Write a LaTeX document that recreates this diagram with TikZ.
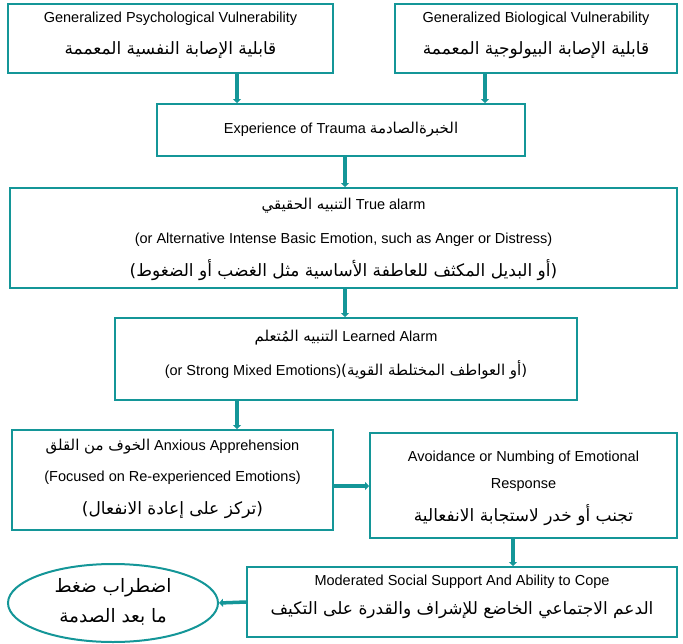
\documentclass[tikz,border=0pt]{standalone}
\usepackage{fontspec}
\setmainfont{Liberation Sans}
\newfontfamily\arfont[Script=Arabic]{DejaVu Sans}
\TeXXeTstate=1
\usetikzlibrary{arrows.meta,shapes.geometric}
\definecolor{tl}{RGB}{20,150,152}
\newcommand{\AR}[1]{{\arfont\beginR #1\endR}}
\newcommand{\ARs}[1]{{\arfont\fontsize{15}{18}\selectfont\beginR #1\endR}}
\begin{document}
\begin{tikzpicture}[x=1pt,y=-1pt,
  box/.style={draw=tl,line width=2pt,rectangle,inner sep=0pt},
  en/.style={inner sep=0pt,font=\fontsize{14.5}{17}\selectfont},
  arx/.style={inner sep=0pt,font=\fontsize{17}{20}\selectfont},
  arr/.style={draw=tl,line width=3.5pt,-{Triangle[width=8pt,length=4pt]}}]
\useasboundingbox (0,0) rectangle (683,643);
% boxes
\node[box,minimum width=325pt,minimum height=69pt] (b1) at (170.5,38.5) {};
\node[box,minimum width=282pt,minimum height=69pt] (b2) at (536,38.5) {};
\node[box,minimum width=368pt,minimum height=52pt] (b3) at (341,130) {};
\node[box,minimum width=667pt,minimum height=100pt] (b4) at (343.5,238) {};
\node[box,minimum width=462pt,minimum height=82pt] (b5) at (346,359) {};
\node[box,minimum width=321pt,minimum height=100pt] (b6) at (172.5,480) {};
\node[box,minimum width=307pt,minimum height=105pt] (b7) at (523.5,485.5) {};
\node[box,minimum width=430pt,minimum height=70pt] (b8) at (462,602) {};
\node[draw=tl,line width=2pt,ellipse,inner sep=0pt,minimum width=210pt,minimum height=78pt] (el) at (113,603) {};
% texts
\node[en] (t1a) at (170.5,19) {Generalized Psychological Vulnerability};
\node[arx] (t1b) at (170.5,50) {\AR{قابلية الإصابة النفسية المعممة}};
\node[en] (t2a) at (536,19) {Generalized Biological Vulnerability};
\node[arx] (t2b) at (536,50) {\AR{قابلية الإصابة البيولوجية المعممة}};
\node[en] (t3) at (341,130) {Experience of Trauma \ARs{الخبرةالصادمة}};
\node[en] (t4a) at (343.5,206) {\ARs{التنبيه الحقيقي} True alarm};
\node[en] (t4b) at (343.5,240) {(or Alternative Intense Basic Emotion, such as Anger or Distress)};
\node[arx] (t4c) at (343.5,270) {\AR{(أو البديل المكثف للعاطفة الأساسية مثل الغضب أو الضغوط)}};
\node[en] (t5a) at (346,338) {\ARs{التنبيه المُتعلم} Learned Alarm};
\node[en] (t5b) at (346,370) {(or Strong Mixed Emotions)\ARs{(أو العواطف المختلطة القوية)}};
\node[en] (t6a) at (172.5,447) {\ARs{الخوف من القلق} Anxious Apprehension};
\node[en] (t6b) at (172.5,478) {(Focused on Re-experienced Emotions)};
\node[arx] (t6c) at (172.5,510) {\AR{(تركز على إعادة الانفعال)}};
\node[en] (t7a) at (523.5,458) {Avoidance or Numbing of Emotional};
\node[en] (t7b) at (523.5,485) {Response};
\node[arx] (t7c) at (523.5,515) {\AR{تجنب أو خدر لاستجابة الانفعالية}};
\node[en] (t8a) at (462,582) {Moderated Social Support And Ability to Cope};
\node[arx] (t8b) at (462,610) {\AR{الدعم الاجتماعي الخاضع للإشراف والقدرة على التكيف}};
\node[arx,font=\fontsize{18.5}{22}\selectfont] (e1) at (113,588) {\AR{اضطراب ضغط}};
\node[arx,font=\fontsize{18.5}{22}\selectfont] (e2) at (113,617) {\AR{ما بعد الصدمة}};
% connectors
\coordinate (xa) at (237,0);
\coordinate (xb) at (485,0);
\coordinate (xc) at (345,0);
\coordinate (xd) at (513,0);
\coordinate (ya) at (0,486);
\draw[arr] (b1.south -| xa) -- (b3.north -| xa);
\draw[arr] (b2.south -| xb) -- (b3.north -| xb);
\draw[arr] (b3.south -| xc) -- (b4.north -| xc);
\draw[arr] (b4.south -| xc) -- (b5.north -| xc);
\draw[arr] (b5.south -| xa) -- (b6.north -| xa);
\draw[arr] (b6.east |- ya) -- (b7.west |- ya);
\draw[arr] (b7.south -| xd) -- (b8.north -| xd);
\draw[arr] (b8.west) -- (el.east);
\end{tikzpicture}
\end{document}
